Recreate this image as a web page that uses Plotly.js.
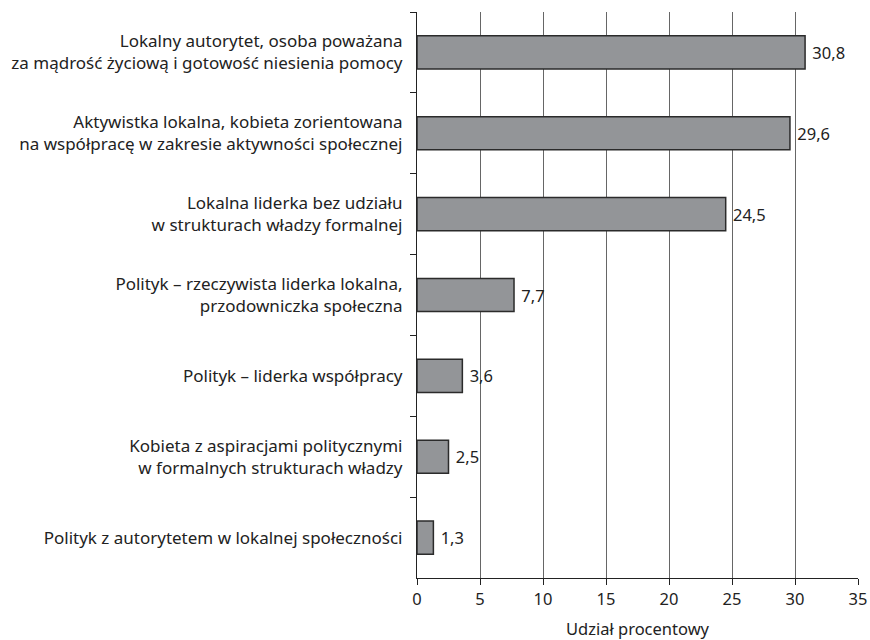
<!DOCTYPE html>
<html><head><meta charset="utf-8">
<script src="https://cdn.plot.ly/plotly-3.0.1.min.js"></script>
<style>body{margin:0;background:#fff}#c{width:870px;height:640px}</style>
</head><body><div id="c"></div>
<script>
const categories = [
  "Lokalny autorytet, osoba poważana<br>za mądrość życiową i gotowość niesienia pomocy",
  "Aktywistka lokalna, kobieta zorientowana<br>na współpracę w zakresie aktywności społecznej",
  "Lokalna liderka bez udziału<br>w strukturach władzy formalnej",
  "Polityk – rzeczywista liderka lokalna,<br>przodowniczka społeczna",
  "Polityk – liderka współpracy",
  "Kobieta z aspiracjami politycznymi<br>w formalnych strukturach władzy",
  "Polityk z autorytetem w lokalnej społeczności"
];
const values = [30.8, 29.6, 24.5, 7.7, 3.6, 2.5, 1.3];
const valueLabels = ["30,8", "29,6", "24,5", "7,7", "3,6", "2,5", "1,3"];
const xTicks = [0, 5, 10, 15, 20, 25, 30, 35];

const font = "Noto Sans, sans-serif";
const fs = 17;
Plotly.newPlot("c", [{
  type: "bar", orientation: "h",
  x: values, y: categories,
  text: valueLabels, texttemplate: "\u00A0%{text}", textposition: "outside", cliponaxis: false,
  textfont: {family: font, size: 16.5, color: "#222"},
  marker: {color: "#939598", line: {color: "#2b2b2b", width: 1.5}},
  width: 0.41, hoverinfo: "none"
}], {
  width: 870, height: 640,
  margin: {l: 417, r: 12, t: 12, b: 62},
  paper_bgcolor: "#fff", plot_bgcolor: "#fff",
  showlegend: false,
  font: {family: font, size: fs, color: "#222"},
  xaxis: {
    range: [0, 35], tickvals: xTicks, ticktext: xTicks.map(String),
    showgrid: true, gridcolor: "#666", gridwidth: 1.2,
    zeroline: false, showline: true, linecolor: "#222", linewidth: 1.2,
    ticks: "outside", ticklen: 6, tickcolor: "#222",
    tickfont: {family: font, size: 16.5, color: "#222"},
    title: {text: "Udział procentowy", font: {family: font, size: 16.5, color: "#222"}, standoff: 14}
  },
  yaxis: {
    autorange: "reversed", type: "category",
    showline: true, linecolor: "#222", linewidth: 1.2,
    ticks: "outside", tickson: "boundaries", ticklen: 6, tickcolor: "#222",
    ticklabelstandoff: 10,
    showgrid: false, zeroline: false,
    tickfont: {family: font, size: fs, color: "#222"}
  }
}, {displayModeBar: false});
</script></body></html>
